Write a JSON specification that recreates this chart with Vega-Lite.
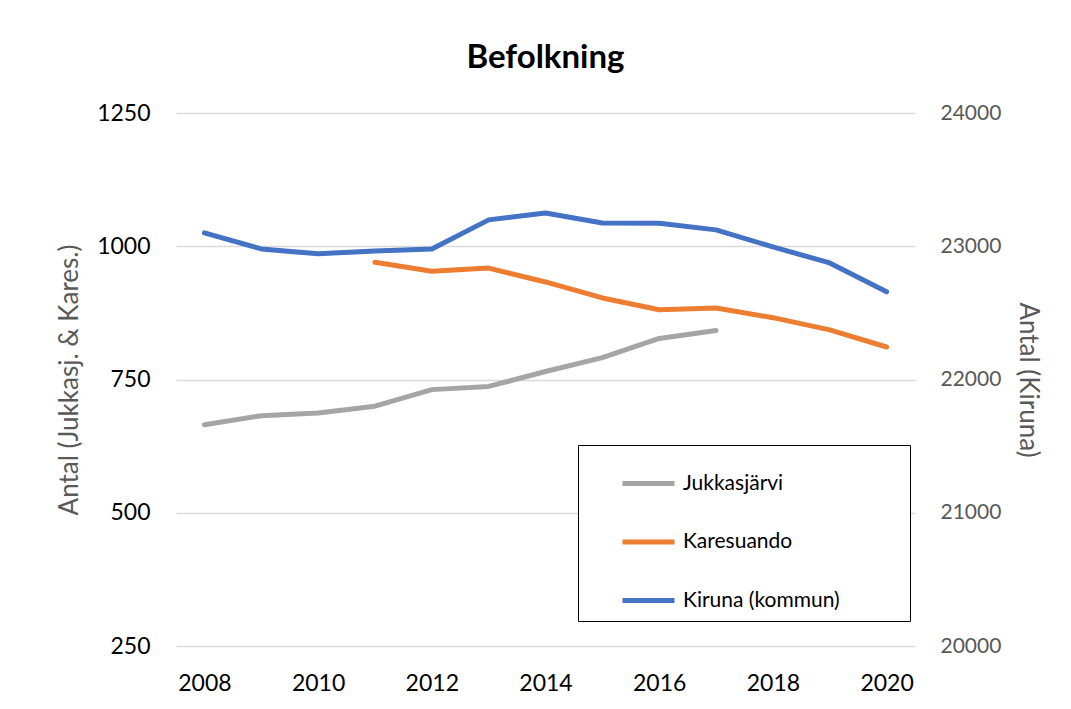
{
  "$schema": "https://vega.github.io/schema/vega-lite/v6.json",
  "width": 739,
  "height": 533,
  "autosize": "none",
  "padding": {"left": 176, "top": 113, "right": 156, "bottom": 63},
  "background": "white",
  "title": {
    "text": "Befolkning",
    "font": "Lato",
    "fontSize": 33,
    "fontWeight": "bold",
    "color": "#000000",
    "anchor": "middle",
    "offset": 27
  },
  "config": {
    "view": {"stroke": null},
    "font": "Lato"
  },
  "data": {
    "values": [
      {"year": 2008, "serie": "Jukkasjärvi", "antal": 665},
      {"year": 2009, "serie": "Jukkasjärvi", "antal": 682},
      {"year": 2010, "serie": "Jukkasjärvi", "antal": 687},
      {"year": 2011, "serie": "Jukkasjärvi", "antal": 700},
      {"year": 2012, "serie": "Jukkasjärvi", "antal": 731},
      {"year": 2013, "serie": "Jukkasjärvi", "antal": 737},
      {"year": 2014, "serie": "Jukkasjärvi", "antal": 765},
      {"year": 2015, "serie": "Jukkasjärvi", "antal": 791},
      {"year": 2016, "serie": "Jukkasjärvi", "antal": 827},
      {"year": 2017, "serie": "Jukkasjärvi", "antal": 842},
      {"year": 2011, "serie": "Karesuando", "antal": 970},
      {"year": 2012, "serie": "Karesuando", "antal": 953},
      {"year": 2013, "serie": "Karesuando", "antal": 959},
      {"year": 2014, "serie": "Karesuando", "antal": 933},
      {"year": 2015, "serie": "Karesuando", "antal": 903},
      {"year": 2016, "serie": "Karesuando", "antal": 881},
      {"year": 2017, "serie": "Karesuando", "antal": 884},
      {"year": 2018, "serie": "Karesuando", "antal": 866},
      {"year": 2019, "serie": "Karesuando", "antal": 843},
      {"year": 2020, "serie": "Karesuando", "antal": 811},
      {"year": 2008, "serie": "Kiruna (kommun)", "antal": 23100},
      {"year": 2009, "serie": "Kiruna (kommun)", "antal": 22980},
      {"year": 2010, "serie": "Kiruna (kommun)", "antal": 22943},
      {"year": 2011, "serie": "Kiruna (kommun)", "antal": 22965},
      {"year": 2012, "serie": "Kiruna (kommun)", "antal": 22980},
      {"year": 2013, "serie": "Kiruna (kommun)", "antal": 23198},
      {"year": 2014, "serie": "Kiruna (kommun)", "antal": 23250},
      {"year": 2015, "serie": "Kiruna (kommun)", "antal": 23175},
      {"year": 2016, "serie": "Kiruna (kommun)", "antal": 23172},
      {"year": 2017, "serie": "Kiruna (kommun)", "antal": 23123},
      {"year": 2018, "serie": "Kiruna (kommun)", "antal": 22995},
      {"year": 2019, "serie": "Kiruna (kommun)", "antal": 22875},
      {"year": 2020, "serie": "Kiruna (kommun)", "antal": 22658}
    ]
  },
  "encoding": {
    "x": {
      "field": "year",
      "type": "quantitative",
      "scale": {"domain": [2007.5, 2020.5], "nice": false, "zero": false},
      "axis": {
        "title": null,
        "values": [2008, 2010, 2012, 2014, 2016, 2018, 2020],
        "format": "d",
        "grid": false,
        "domain": false,
        "ticks": false,
        "labelFont": "Lato",
        "labelFontSize": 23,
        "labelColor": "#000000",
        "labelPadding": 26
      }
    },
    "color": {
      "field": "serie",
      "type": "nominal",
      "scale": {
        "domain": ["Jukkasjärvi", "Karesuando", "Kiruna (kommun)"],
        "range": ["#A5A5A5", "#ED7D31", "#4472C4"]
      },
      "legend": {
        "title": null,
        "orient": "none",
        "legendX": 402,
        "legendY": 332,
        "direction": "vertical",
        "strokeColor": "#000000",
        "fillColor": "#ffffff",
        "padding": 10,
        "offset": 0,
        "symbolType": "stroke",
        "symbolSize": 2704,
        "symbolStrokeWidth": 5,
        "symbolOffset": 32,
        "labelFont": "Lato",
        "labelFontSize": 21,
        "labelColor": "#000000",
        "labelOffset": 6,
        "labelExpr": "datum.label + '\u2800\u2800\u2800\u2800'",
        "rowPadding": 19.5,
        "labelLimit": 400
      }
    }
  },
  "layer": [
    {
      "transform": [{"filter": "datum.serie !== 'Kiruna (kommun)'"}],
      "mark": {"type": "line", "strokeWidth": 5, "strokeCap": "round", "strokeJoin": "round"},
      "encoding": {
        "y": {
          "field": "antal",
          "type": "quantitative",
          "scale": {"domain": [250, 1250], "nice": false, "zero": false},
          "axis": {
            "title": "Antal (Jukkasj. & Kares.)",
            "titleFont": "Lato",
            "titleFontSize": 26,
            "titleFontWeight": "normal",
            "titleColor": "#595959",
            "titlePadding": 14,
            "values": [250, 500, 750, 1000, 1250],
            "format": "d",
            "grid": true,
            "gridColor": "#D9D9D9",
            "gridWidth": 1.3,
            "domain": false,
            "ticks": false,
            "labelFont": "Lato",
            "labelFontSize": 23,
            "labelColor": "#000000",
            "labelPadding": 26
          }
        }
      }
    },
    {
      "transform": [{"filter": "datum.serie === 'Kiruna (kommun)'"}],
      "mark": {"type": "line", "strokeWidth": 5, "strokeCap": "round", "strokeJoin": "round"},
      "encoding": {
        "y": {
          "field": "antal",
          "type": "quantitative",
          "scale": {"domain": [20000, 24000], "nice": false, "zero": false},
          "axis": {
            "orient": "right",
            "title": "Antal (Kiruna)",
            "titleFont": "Lato",
            "titleFontSize": 26,
            "titleFontWeight": "normal",
            "titleColor": "#595959",
            "titlePadding": 14,
            "values": [20000, 21000, 22000, 23000, 24000],
            "format": "d",
            "grid": false,
            "domain": false,
            "ticks": false,
            "labelFont": "Lato",
            "labelFontSize": 21,
            "labelColor": "#595959",
            "labelPadding": 25
          }
        }
      }
    }
  ],
  "resolve": {"scale": {"y": "independent"}}
}
